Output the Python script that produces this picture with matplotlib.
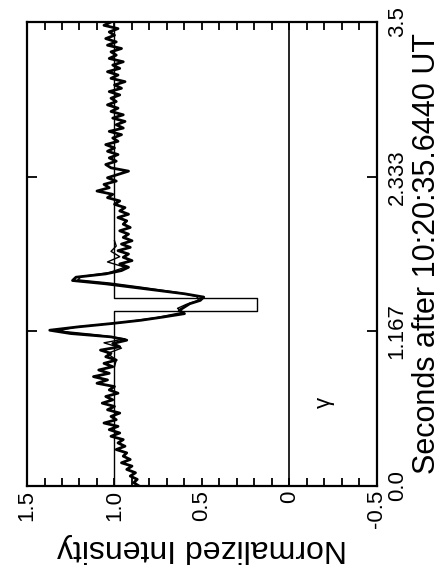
import numpy as np
import matplotlib
matplotlib.use("Agg")
import matplotlib.pyplot as plt
from matplotlib.ticker import MultipleLocator

plt.rcParams['font.family'] = ['Liberation Sans', 'DejaVu Sans']

# ---- DATA ----
# observed light curve, sampled every 0.025 s from 0.0 s
dt = 0.025
observed = [
    0.86, 0.89, 0.87, 0.91, 0.88, 0.93, 0.90, 0.96, 0.91, 0.95,
    0.93, 0.99, 0.94, 0.98, 0.95, 1.02, 0.97, 1.03, 0.98, 1.06,
    0.99, 1.02, 0.97, 1.04, 1.00, 1.07, 1.01, 1.05, 0.98, 1.03,
    1.00, 1.10, 1.04, 1.12, 1.03, 1.09, 1.01, 1.06, 0.99, 1.05,
    1.02, 1.08, 0.97, 1.01, 0.93, 1.02, 1.25, 1.37, 1.21, 1.02,
    0.85, 0.72, 0.60, 0.63, 0.60, 0.57, 0.51, 0.49, 0.60, 0.75,
    0.90, 1.05, 1.24, 1.22, 1.05, 0.96, 0.92, 0.97, 0.90, 0.95,
    0.92, 0.98, 0.91, 0.96, 0.90, 0.95, 0.92, 0.97, 0.91, 0.95,
    0.93, 0.98, 0.92, 0.97, 0.94, 1.00, 0.97, 1.04, 1.01, 1.10,
    1.03, 1.06, 0.99, 1.04, 0.98, 0.92, 1.02, 1.05, 0.99, 1.03,
    0.98, 1.04, 1.00, 1.05, 0.98, 1.01, 0.96, 1.03, 0.95, 0.99,
    0.94, 1.01, 0.95, 1.02, 0.98, 1.04, 0.99, 1.02, 0.97, 1.03,
    0.96, 1.00, 0.94, 1.02, 0.98, 1.04, 0.97, 1.01, 0.95, 1.03,
    0.99, 1.02, 0.96, 1.04, 0.99, 1.05, 1.00, 1.03, 0.98, 1.06,
    1.02,
]
seconds = np.arange(len(observed)) * dt

# model (diffraction) curve
model_t = [0.90, 0.95, 1.00, 1.04, 1.08, 1.11, 1.14, 1.17, 1.20, 1.23,
           1.27, 1.31, 1.34, 1.37, 1.40, 1.43, 1.46, 1.50, 1.53, 1.555,
           1.58, 1.61, 1.65, 1.69, 1.73, 1.77, 1.81, 1.85]
model_i = [1.00, 0.99, 1.04, 0.96, 1.06, 0.94, 1.10, 1.32, 1.22, 0.98,
           0.76, 0.61, 0.64, 0.59, 0.52, 0.53, 0.64, 0.85, 1.02, 1.21,
           1.19, 1.03, 0.94, 1.04, 0.97, 1.02, 0.99, 1.00]

# square-well occultation model
box_t = [0.0, 1.32, 1.32, 1.416, 1.416, 3.5]
box_i = [1.0, 1.0, 0.186, 0.186, 1.0, 1.0]

time_ticks = [0.0, 1.167, 2.333, 3.5]
time_labels = ["0.0", "1.167", "2.333", "3.5"]
int_ticks = [1.5, 1.0, 0.5, 0.0, -0.5]
int_labels = ["1.5", "1.0", "0.5", "0", "-0.5"]

# ---- PLOT (drawn rotated: intensity across, time upward) ----
fig = plt.figure(figsize=(4.41, 5.73), dpi=100)
ax = fig.add_axes([27 / 441, 87 / 573, 350 / 441, 464 / 573])

ax.plot(box_i, box_t, color="black", lw=1.0)
ax.axvline(0, color="black", lw=1.2)
ax.plot(model_i, model_t, color="black", lw=1.0)
ax.plot(observed, seconds, color="black", lw=2.0)

ax.text(-0.2, 0.63, "γ", rotation=90, fontsize=16, ha="center", va="center")

ax.set_xlim(1.5, -0.5)
ax.set_ylim(0, 3.5)

ax.set_xticks(int_ticks)
ax.set_xticklabels(int_labels, rotation=90, fontsize=16)
ax.xaxis.set_minor_locator(MultipleLocator(0.1))
ax.set_yticks(time_ticks)
ax.set_yticklabels(time_labels, rotation=90, fontsize=16, va="center")

ax.tick_params(axis="x", which="both", direction="in", top=True, bottom=True,
               length=6, width=1.3, pad=3)
ax.tick_params(axis="y", which="both", direction="in", left=True, right=True,
               labelleft=False, labelright=True, length=7, width=1.3, pad=7)

ax.yaxis.set_label_position("right")
ax.set_ylabel("Seconds after 10:20:35.6440 UT", fontsize=22, rotation=90, labelpad=3)
ax.set_xlabel("Normalized Intensity", fontsize=23, rotation=180, labelpad=3)

for s in ax.spines.values():
    s.set_linewidth(1.6)

fig.savefig("out.png", dpi=100)
